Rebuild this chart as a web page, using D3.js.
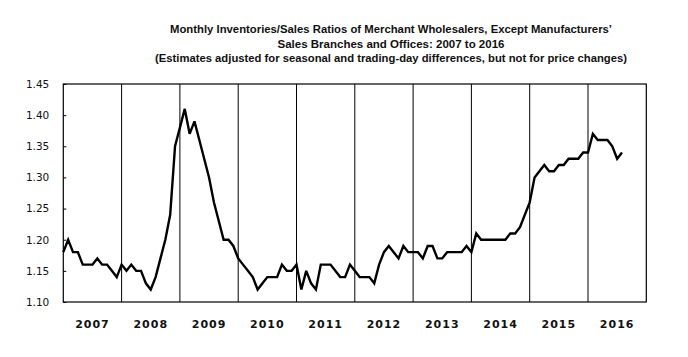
<!DOCTYPE html>
<html>
<head>
<meta charset="utf-8">
<script src="https://cdn.jsdelivr.net/npm/d3@7"></script>
<style>
  html, body { margin: 0; padding: 0; background: #fff; }
  svg { display: block; }
</style>
</head>
<body>
<svg id="chart" width="688" height="357"></svg>
<script>
// ---- data ----
const titleLines = [
  "Monthly Inventories/Sales Ratios of Merchant Wholesalers, Except Manufacturers\u2019",
  "Sales Branches and Offices: 2007 to 2016",
  "(Estimates adjusted for seasonal and trading-day differences, but not for price changes)"
];
const years = ["2007","2008","2009","2010","2011","2012","2013","2014","2015","2016"];
const yTicks = [1.10, 1.15, 1.20, 1.25, 1.30, 1.35, 1.40, 1.45];
// monthly ratios, Jan 2007 .. Aug 2016
const ratios2007 = [1.18,1.20,1.18,1.18,1.16,1.16,1.16,1.17,1.16,1.16,1.15,1.14];
const ratios2008 = [1.16,1.15,1.16,1.15,1.15,1.13,1.12,1.14,1.17,1.20,1.24,1.35];
const ratios2009 = [1.38,1.41,1.37,1.39,1.36,1.33,1.30,1.26,1.23,1.20,1.20,1.19];
const ratios2010 = [1.17,1.16,1.15,1.14,1.12,1.13,1.14,1.14,1.14,1.16,1.15,1.15];
const ratios2011 = [1.16,1.12,1.15,1.13,1.12,1.16,1.16,1.16,1.15,1.14,1.14,1.16];
const ratios2012 = [1.15,1.14,1.14,1.14,1.13,1.16,1.18,1.19,1.18,1.17,1.19,1.18];
const ratios2013 = [1.18,1.18,1.17,1.19,1.19,1.17,1.17,1.18,1.18,1.18,1.18,1.19];
const ratios2014 = [1.18,1.21,1.20,1.20,1.20,1.20,1.20,1.20,1.21,1.21,1.22,1.24];
const ratios2015 = [1.26,1.30,1.31,1.32,1.31,1.31,1.32,1.32,1.33,1.33,1.33,1.34];
const ratios2016 = [1.34,1.37,1.36,1.36,1.36,1.35,1.33,1.34];

const ratios = [].concat(ratios2007, ratios2008, ratios2009, ratios2010, ratios2011,
                         ratios2012, ratios2013, ratios2014, ratios2015, ratios2016);

// ---- layout ----
const svg = d3.select("#chart");
const plot = { left: 63.3, right: 646.3, top: 84, bottom: 302 };

const x = d3.scaleLinear().domain([0, years.length * 12]).range([plot.left, plot.right]);
const y = d3.scaleLinear().domain([1.10, 1.45]).range([plot.bottom, plot.top]);

// title
const titleFont = "'Liberation Sans Narrow','Arial Narrow','Liberation Sans',Arial,sans-serif";
const titleWidths = [442, 225, 472];
const titleY = [33, 48, 62];
titleLines.forEach((t, i) => {
  const el = svg.append("text")
    .attr("x", 391)
    .attr("y", titleY[i])
    .attr("text-anchor", "middle")
    .attr("font-family", titleFont)
    .attr("font-weight", "bold")
    .attr("font-size", 11.5)
    .attr("fill", "#111")
    .text(t);
  const w = el.node().getComputedTextLength();
  if (Math.abs(w - titleWidths[i]) > 4) {
    el.attr("textLength", titleWidths[i]).attr("lengthAdjust", "spacingAndGlyphs");
  }
});

// frame
svg.append("rect")
  .attr("x", plot.left).attr("y", plot.top)
  .attr("width", plot.right - plot.left).attr("height", plot.bottom - plot.top)
  .attr("fill", "none").attr("stroke", "#000").attr("stroke-width", 1.2);

// year separators
svg.append("g").selectAll("line")
  .data(d3.range(1, years.length))
  .join("line")
  .attr("x1", d => x(d * 12)).attr("x2", d => x(d * 12))
  .attr("y1", plot.top).attr("y2", plot.bottom)
  .attr("stroke", "#000").attr("stroke-width", 1);

// y axis
const yAxis = d3.axisLeft(y)
  .tickValues(yTicks)
  .tickSize(-3)
  .tickPadding(14)
  .tickFormat(d3.format(".2f"));
const gy = svg.append("g").attr("transform", `translate(${plot.left},0)`).call(yAxis);
gy.select(".domain").remove();
gy.selectAll("line").attr("stroke", "#000");
gy.selectAll("text")
  .attr("font-family", "'DejaVu Sans', Verdana, sans-serif")
  .attr("font-size", 10.5)
  .attr("fill", "#111");

// x year labels
svg.append("g").selectAll("text")
  .data(years)
  .join("text")
  .attr("x", (d, i) => x(i * 12 + 6))
  .attr("y", 328)
  .attr("text-anchor", "middle")
  .attr("font-family", "'DejaVu Sans', Verdana, sans-serif")
  .attr("font-weight", "bold")
  .attr("font-size", 11)
  .attr("letter-spacing", 1)
  .attr("fill", "#111")
  .text(d => d);

// line
const line = d3.line()
  .x((d, i) => x(i))
  .y(d => y(d));
svg.append("path")
  .datum(ratios)
  .attr("d", line)
  .attr("fill", "none")
  .attr("stroke", "#000")
  .attr("stroke-width", 2.4)
  .attr("stroke-linejoin", "miter")
  .attr("stroke-miterlimit", 3);
</script>
</body>
</html>
